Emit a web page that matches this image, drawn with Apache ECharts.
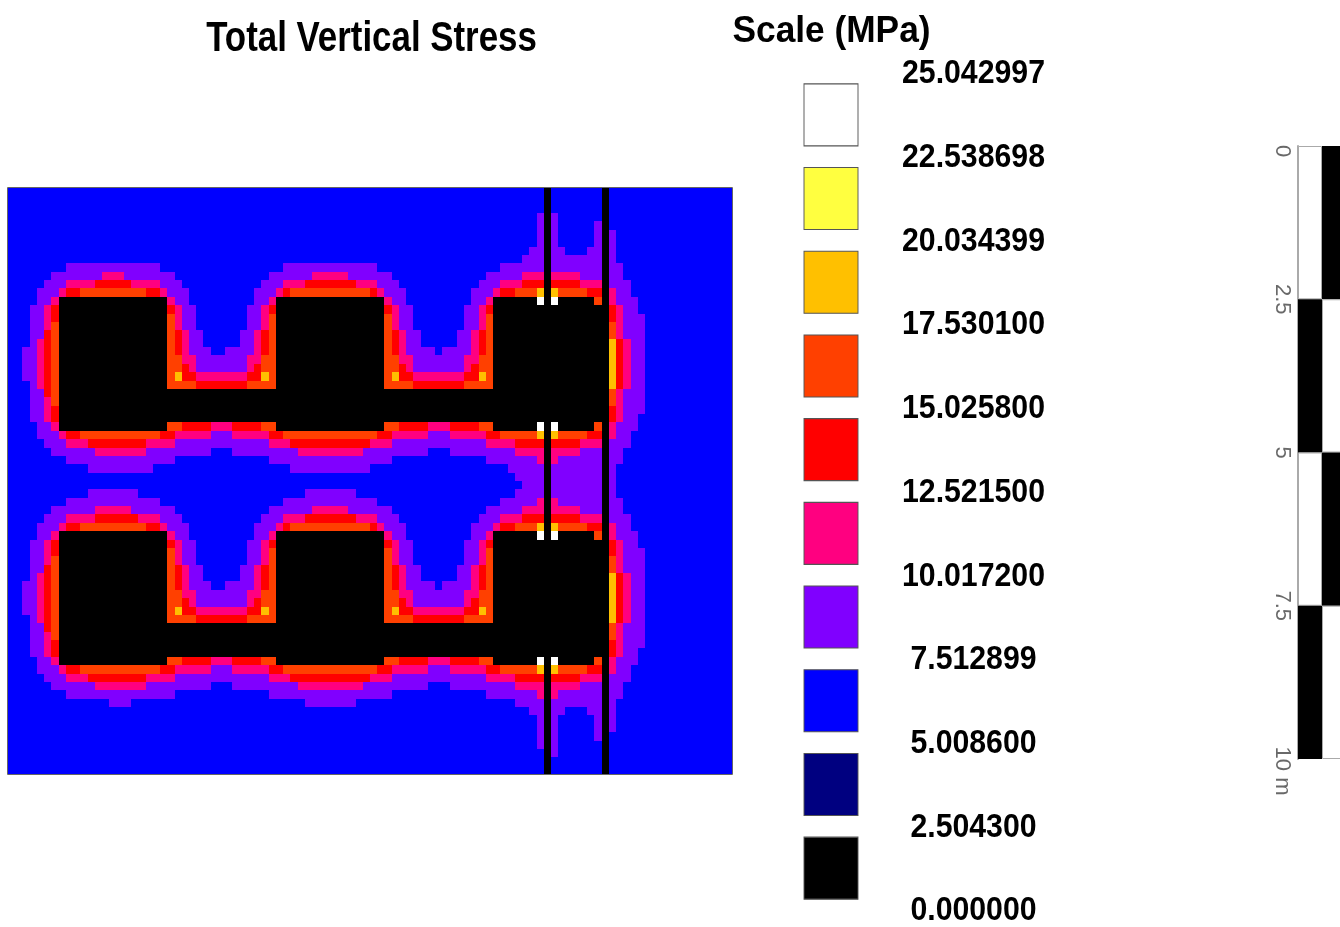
<!DOCTYPE html>
<html>
<head>
<meta charset="utf-8">
<title>Total Vertical Stress</title>
<script src="https://cdn.jsdelivr.net/npm/echarts@6/dist/echarts.min.js"></script>
<style>
    html,body{margin:0;padding:0;background:#fff;}
    #main{width:1340px;height:927px;}
</style>
</head>
<body>
<div id="main"></div>
<script>
// legend: top of each colour band in MPa, lowest first
var scaleTicks = [0.000000, 2.504300, 5.008600, 7.512899, 10.017200, 12.521500, 15.025800, 17.530100, 20.034399, 22.538698, 25.042997];
var scaleLabels = ['0.000000', '2.504300', '5.008600', '7.512899', '10.017200', '12.521500', '15.025800', '17.530100', '20.034399', '22.538698', '25.042997'];
var bandColors = ['#000000', '#000080', '#0000ff', '#8000ff', '#ff0080', '#ff0000', '#ff4000', '#ffc000', '#ffff40', '#ffffff'];
// band letters used in stressRows, same order as bandColors
var bandCodes = 'KNBPMROAYW';

var nCols = 100;
var nRows = 70;
// the two vertical black strips, present in every row
var stripCols = [74, 82];
// one entry per row, runs of "band from-to", anything not listed is blue (B)
var stressRows = [
    '', '', '',
    'P73 P75',
    'P73 P75 P81',
    'P73 P75 P81 P83',
    'P73 P75 P81 P83',
    'P72-73 P75-76 P80-81 P83',
    'P71-73 P75-81 P83',
    'P8-20 P38-50 P68-73 P75-81 P83-84',
    'P6-12 M13-15 P16-22 P36-41 M42-46 P47-52 P66-70 M71-73 M75-78 P79-81 P83-84',
    'P5-7 M8-11 R12-16 M17-20 P21-23 P35-37 M38-40 R41-47 M48-50 P51-53 P65-67 M68-70 R71-73 R75-78 M79-81 P83-85',
    'P4-6 M7 R8-9 O10-18 R19-20 M21 P22-24 P34-36 M37 R38 O39-49 R50 M51 P52-54 P64-66 M67 R68-69 O70-72 A73 A75 O76-79 R80-81 M83 P84-85',
    'P4-5 M6 K7-21 M22 P23-24 P34-35 M36 K37-51 M52 P53-54 P64-65 M66 K67-72 W73 W75 K76-80 O81 M83 P84-86',
    'P3-4 M5 R6 K7-21 R22 M23 P24-25 P33-34 M35 R36 K37-51 R52 M53 P54-55 P63-64 M65 R66 K67-82 R83 M84 P85-86',
    'P3-4 M5 R6 K7-21 O22 M23 P24-25 P33-34 M35 O36 K37-51 O52 M53 P54-55 P63-64 M65 O66 K67-82 R83 M84 P85-87',
    'P3-4 M5 O6 K7-21 O22 M23 P24-25 P33-34 M35 O36 K37-51 O52 M53 P54-55 P63-64 M65 O66 K67-82 O83 M84 P85-87',
    'P3-4 R5 O6 K7-21 O22 R23 M24 P25-26 P32-33 M34 R35 O36 K37-51 O52 R53 M54 P55-56 P62-63 M64 R65 O66 K67-82 O83 M84 P85-87',
    'P3 M4 R5 O6 K7-21 O22 R23 M24 P25-26 P32-33 M34 R35 O36 K37-51 O52 R53 M54 P55-56 P62-63 M64 R65 O66 K67-82 A83 R84 M85 P86-87',
    'P2-3 M4 R5 O6 K7-21 O22 R23 M24 P25-27 P30-33 M34 R35 O36 K37-51 O52 R53 M54 P55-58 P60-63 M64 R65 O66 K67-82 A83 R84 M85 P86-87',
    'P2-3 M4 R5 O6 K7-21 O22-23 M24-25 P26-32 M33-34 O35-36 K37-51 O52-53 M54-55 P56-62 M63-64 O65-66 K67-82 A83 R84 M85 P86-87',
    'P2-3 M4 R5 O6 K7-21 O22-23 R24 M25 P26-32 M33 R34 O35-36 K37-51 O52-53 R54 M55 P56-62 M63 R64 O65-66 K67-82 A83 R84 M85 P86-87',
    'P2-3 M4 R5 O6 K7-21 O22 A23 R24-25 M26-32 R33-34 A35 O36 K37-51 O52 A53 R54-55 M56-62 R63-64 A65 O66 K67-82 A83 R84 M85 P86-87',
    'P3 M4 R5 O6 K7-21 O22-25 R26-32 O33-36 K37-51 O52-55 R56-62 O63-66 K67-82 A83 R84 M85 P86-87',
    'P3-4 R5 O6 K7-82 O83 M84 P85-87',
    'P3-4 M5 O6 K7-82 O83 M84 P85-87',
    'P3-4 M5 R6 K7-82 R83 M84 P85-87',
    'P3-4 M5 R6 K7-82 R83 M84 P85-86',
    'P4-5 M6 K7-21 O22-23 R24-27 M28-30 R31-34 O35-36 K37-51 O52-53 R54-57 M58-60 R61-64 O65-66 K67-72 W73 W75 K76-80 O81 M83 P84-86',
    'P4-6 M7 R8-9 O10-20 R21-22 M23-27 P28-30 M31-35 R36-37 O38-50 R51-52 M53-57 P58-60 M61-65 R66-67 O68-72 A73 A75 O76-79 R80-81 M83 P84-85',
    'P5-7 M8-10 R11-18 M19-22 P23-35 M36-38 R39-49 M50-52 P53-65 M66-69 R70-73 R75-78 M79-81 P83-85',
    'P6-11 M12-18 P19-27 P31-39 M40-48 P49-57 P61-69 M70-73 M75-78 P79-81 P83-84',
    'P8-22 P36-52 P66-72 M73 M75 P76-81 P83-84',
    'P11-19 P39-49 P69-73 P75-81 P83',
    'P70-73 P75-81 P83',
    'P71-73 P75-81 P83',
    'P11-17 P41-47 P70-73 P75-81 P83',
    'P8-20 P38-50 P68-72 M73 M75 P76-81 P83-84',
    'P6-11 M12-16 P17-22 P36-41 M42-46 P47-52 P66-70 M71-73 M75-78 P79-81 P83-84',
    'P5-7 M8-11 R12-17 M18-20 P21-23 P35-37 M38-40 R41-47 M48-50 P51-53 P65-67 M68-70 R71-73 R75-78 M79-81 P83-85',
    'P4-6 M7 R8-9 O10-18 R19-20 M21 P22-24 P34-36 M37 R38 O39-49 R50 M51 P52-54 P64-66 M67 R68-69 O70-72 A73 A75 O76-79 R80-81 M83 P84-85',
    'P4-5 M6 K7-21 M22 P23-24 P34-35 M36 K37-51 M52 P53-54 P64-65 M66 K67-72 W73 W75 K76-80 O81 M83 P84-86',
    'P3-4 M5 R6 K7-21 R22 M23 P24-25 P33-34 M35 R36 K37-51 R52 M53 P54-55 P63-64 M65 R66 K67-82 R83 M84 P85-86',
    'P3-4 M5 R6 K7-21 O22 M23 P24-25 P33-34 M35 O36 K37-51 O52 M53 P54-55 P63-64 M65 O66 K67-82 R83 M84 P85-87',
    'P3-4 M5 O6 K7-21 O22 M23 P24-25 P33-34 M35 O36 K37-51 O52 M53 P54-55 P63-64 M65 O66 K67-82 O83 M84 P85-87',
    'P3-4 R5 O6 K7-21 O22 R23 M24 P25-26 P32-33 M34 R35 O36 K37-51 O52 R53 M54 P55-56 P62-63 M64 R65 O66 K67-82 O83 M84 P85-87',
    'P3 M4 R5 O6 K7-21 O22 R23 M24 P25-26 P32-33 M34 R35 O36 K37-51 O52 R53 M54 P55-56 P62-63 M64 R65 O66 K67-82 A83 R84 M85 P86-87',
    'P2-3 M4 R5 O6 K7-21 O22 R23 M24 P25-27 P30-33 M34 R35 O36 K37-51 O52 R53 M54 P55-58 P60-63 M64 R65 O66 K67-82 A83 R84 M85 P86-87',
    'P2-3 M4 R5 O6 K7-21 O22-23 M24-25 P26-32 M33-34 O35-36 K37-51 O52-53 M54-55 P56-62 M63-64 O65-66 K67-82 A83 R84 M85 P86-87',
    'P2-3 M4 R5 O6 K7-21 O22-23 R24 M25 P26-32 M33 R34 O35-36 K37-51 O52-53 R54 M55 P56-62 M63 R64 O65-66 K67-82 A83 R84 M85 P86-87',
    'P2-3 M4 R5 O6 K7-21 O22 A23 R24-25 M26-32 R33-34 A35 O36 K37-51 O52 A53 R54-55 M56-62 R63-64 A65 O66 K67-82 A83 R84 M85 P86-87',
    'P3 M4 R5 O6 K7-21 O22-25 R26-32 O33-36 K37-51 O52-55 R56-62 O63-66 K67-82 A83 R84 M85 P86-87',
    'P3-4 R5 O6 K7-82 O83 M84 P85-87',
    'P3-4 M5 O6 K7-82 O83 M84 P85-87',
    'P3-4 M5 R6 K7-82 R83 M84 P85-87',
    'P3-4 M5 R6 K7-82 R83 M84 P85-86',
    'P4-5 M6 K7-21 O22-23 R24-27 M28-30 R31-34 O35-36 K37-51 O52-53 R54-57 M58-60 R61-64 O65-66 K67-72 W73 W75 K76-80 O81 M83 P84-86',
    'P4-6 M7 R8-9 O10-20 R21-22 M23-27 P28-30 M31-35 R36-37 O38-50 R51-52 M53-57 P58-60 M61-65 R66-67 O68-72 A73 A75 O76-79 R80-81 M83 P84-85',
    'P5-7 M8-10 R11-18 M19-22 P23-35 M36-38 R39-49 M50-52 P53-65 M66-69 R70-73 R75-78 M79-81 P83-85',
    'P6-11 M12-18 P19-27 P31-39 M40-48 P49-57 P61-69 M70-73 M75-78 P79-81 P83-84',
    'P8-22 P36-52 P66-72 M73 M75 P76-81 P83-84',
    'P14-16 P41-47 P70-73 P75-81 P83',
    'P72-73 P75-76 P80-81 P83',
    'P73 P75 P81 P83',
    'P73 P75 P81 P83',
    'P73 P75 P81',
    'P73 P75',
    'P75',
    '', ''
];
// metre scale on the right
var rulerTicks = [0, 2.5, 5, 7.5, 10];
var rulerLabels = ['0', '2.5', '5', '7.5', '10 m'];
var rulerSegments = ['0-2.5', '2.5-5', '5-7.5', '7.5-10'];
var rulerFirstCol = [1, 1, 1, 1];
var rulerSecondCol = [1, 1, 1, 1];

function bandMid(i) {
    return (scaleTicks[i] + scaleTicks[i + 1]) / 2;
}

var blueValue = bandMid(bandCodes.indexOf('B'));
var stressGrid = [];
stressRows.forEach(function (txt) {
    var row = [];
    for (var c = 0; c < nCols; c++) row.push(blueValue);
    txt.split(' ').forEach(function (run) {
        if (!run) return;
        var v = bandMid(bandCodes.indexOf(run[0]));
        var p = run.slice(1).split('-');
        var from = +p[0], to = +(p[1] || p[0]);
        for (var k = from; k <= to; k++) row[k] = v;
    });
    stripCols.forEach(function (c) { row[c] = bandMid(0); });
    stressGrid.push(row);
});

var heatData = [];
for (var r = 0; r < nRows; r++) {
    for (var c = 0; c < nCols; c++) {
        heatData.push([c, r, stressGrid[r][c]]);
    }
}

var xCats = [], yCats = [];
for (var i = 0; i < nCols; i++) xCats.push(i);
for (var j = 0; j < nRows; j++) yCats.push(j);

var pieces = bandColors.map(function (col, i) {
    return {gte: scaleTicks[i], lt: scaleTicks[i + 1], color: col};
});

var swatchData = bandColors.map(function (col, i) {
    return {value: [0, i + 0.5], itemStyle: {color: col}};
});

function rulerCell(v, dark) {
    return {
        value: v,
        itemStyle: dark ? {color: '#000', borderWidth: 0} : {color: '#fff', borderColor: '#aaa', borderWidth: 1}
    };
}

// 0 and "10 m" sit a little off their tick in the original
var rulerShift = [5, 0, 0, 0, 12];
var rulerText = rulerTicks.map(function (t, i) {
    return {
        value: [0, t],
        label: {formatter: rulerLabels[i], offset: [rulerShift[i], 0]}
    };
});

// heatmap series leaves faint seams on fractional cells, so snap the cells to whole pixels
function renderCell(params, api) {
    var p = api.coord([api.value(0), api.value(1)]);
    var s = api.size([1, 1]);
    var x0 = Math.round(p[0] - s[0] / 2), x1 = Math.round(p[0] + s[0] / 2);
    var y0 = Math.round(p[1] - s[1] / 2), y1 = Math.round(p[1] + s[1] / 2);
    return {
        type: 'rect',
        shape: {x: x0, y: y0, width: x1 - x0, height: y1 - y0},
        style: {fill: api.visual('color')}
    };
}

var boldFont = '"Liberation Sans", Arial, sans-serif';

var chart = echarts.init(document.getElementById('main'), null, {renderer: 'canvas'});
chart.setOption({
    animation: false,
    backgroundColor: '#fff',
    visualMap: {
        type: 'piecewise', show: false, seriesIndex: 0, dimension: 2, pieces: pieces
    },
    grid: [
        {left: 8, top: 188, width: 724, height: 586},
        {left: 804, top: 72, width: 54, height: 837},
        {left: 1298, top: 146, width: 42, height: 613},
        {left: 1264, top: 146, width: 36, height: 613},
        // thin frame just outside the cells
        {left: 7.5, top: 187.5, width: 725, height: 587, show: true, backgroundColor: 'transparent', borderColor: '#666', borderWidth: 1}
    ],
    xAxis: [
        {gridIndex: 0, type: 'category', data: xCats, show: false},
        {gridIndex: 1, type: 'value', min: -1, max: 1, show: false},
        {gridIndex: 2, type: 'value', min: 0, max: 1.75, show: false},
        {gridIndex: 3, type: 'value', min: -1, max: 1, show: false},
        {gridIndex: 4, type: 'value', min: 0, max: 1, show: false}
    ],
    yAxis: [
        {gridIndex: 0, type: 'category', data: yCats, inverse: true, show: false},
        {gridIndex: 1, type: 'value', min: 0, max: 10, interval: 1, show: false},
        {
            gridIndex: 2, type: 'category', data: rulerSegments, inverse: true,
            axisLine: {show: true, lineStyle: {color: '#aaa', width: 2}},
            axisTick: {show: false}, axisLabel: {show: false}
        },
        {gridIndex: 3, type: 'value', min: 0, max: 10, inverse: true, show: false},
        {gridIndex: 4, type: 'value', min: 0, max: 1, show: false}
    ],
    series: [
        {
            type: 'custom', xAxisIndex: 0, yAxisIndex: 0, data: heatData,
            renderItem: renderCell, encode: {x: 0, y: 1}, progressive: 0, silent: true
        },
        {
            type: 'scatter', xAxisIndex: 1, yAxisIndex: 1, data: swatchData,
            symbol: 'rect', symbolSize: [54, 62], symbolOffset: [0, 1], silent: true,
            itemStyle: {borderColor: '#555', borderWidth: 1, opacity: 1}
        },
        {
            type: 'bar', xAxisIndex: 2, yAxisIndex: 2, stack: 'ruler', barWidth: '100%', silent: true, clip: false,
            data: rulerFirstCol.map(function (v, i) { return rulerCell(v, i % 2 === 1); })
        },
        {
            type: 'bar', xAxisIndex: 2, yAxisIndex: 2, stack: 'ruler', barWidth: '100%', silent: true, clip: false,
            data: rulerSecondCol.map(function (v, i) { return rulerCell(v, i % 2 === 0); })
        },
        {
            type: 'scatter', xAxisIndex: 3, yAxisIndex: 3, data: rulerText,
            symbolSize: 0, silent: true,
            label: {
                show: true, position: 'inside', rotate: -90, color: '#444',
                fontFamily: '"Liberation Sans", sans-serif', fontSize: 22
            }
        }
    ]
});

// squeezed bold text like the narrow font of the original, axis labels cannot be scaled so these are graphics
function squeezed(text, x, y, size, sx) {
    return {
        type: 'text', x: x, y: y, scaleX: sx, silent: true,
        style: {
            text: text, fill: '#000', align: 'center', verticalAlign: 'middle',
            font: 'bold ' + size + 'px ' + boldFont
        }
    };
}

var graphics = [
    squeezed('Total Vertical Stress', 371.5, 39, 42, 0.83),
    squeezed('Scale (MPa)', 831.5, 32, 36, 0.98)
];
scaleLabels.forEach(function (txt, i) {
    var y = chart.convertToPixel({yAxisIndex: 1}, i);
    graphics.push(squeezed(txt, 973.5, y + 2, 34, 0.89));
});
chart.setOption({graphic: graphics});
</script>
</body>
</html>
